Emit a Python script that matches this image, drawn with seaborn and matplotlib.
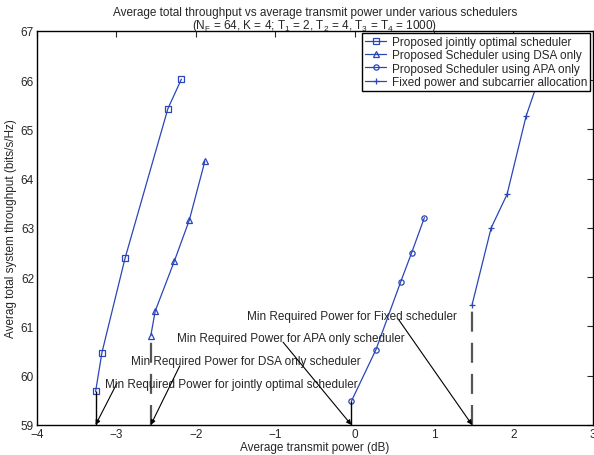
import numpy as np
import pandas as pd
import matplotlib
matplotlib.use("Agg")
import matplotlib.pyplot as plt
import seaborn as sns

# series labels
SERIES = [
    "Proposed jointly optimal scheduler",
    "Proposed Scheduler using DSA only",
    "Proposed Scheduler using APA only",
    "Fixed power and subcarrier allocation",
]
MARKERS = ["s", "^", "o", "+"]

# values (power in dB, throughput in bits/s/Hz)
joint_power = [-3.26, -3.18, -2.89, -2.35, -2.18]
joint_thr = [59.68, 60.47, 62.38, 65.42, 66.02]
dsa_power = [-2.565, -2.51, -2.27, -2.08, -1.885]
dsa_thr = [60.81, 61.31, 62.32, 63.16, 64.35]
apa_power = [-0.04, 0.27, 0.58, 0.72, 0.88]
apa_thr = [59.48, 60.53, 61.90, 62.50, 63.21]
fixed_power = [1.48, 1.72, 1.92, 2.16, 2.40]
fixed_thr = [61.44, 63.00, 63.68, 65.27, 66.40]

# min required power annotations
ANN_TEXT = [
    "Min Required Power for jointly optimal scheduler",
    "Min Required Power for DSA only scheduler",
    "Min Required Power for APA only scheduler",
    "Min Required Power for Fixed scheduler",
]
ANN_TEXT_X = [-3.14, -2.81, -2.23, -1.36]
ANN_TEXT_Y = [59.83, 60.29, 60.76, 61.22]
ANN_TAIL_X = [-2.99, -2.20, -0.90, 0.55]
ANN_TAIL_Y = [59.85, 60.20, 60.68, 61.15]

sns.set_style("white")
plt.rcParams["font.family"] = ["Liberation Sans", "DejaVu Sans"]
plt.rcParams["mathtext.fontset"] = "custom"
plt.rcParams["mathtext.rm"] = "Liberation Sans"
plt.rcParams["mathtext.it"] = "Liberation Sans"

BLUE = "#2a46b8"

df = pd.concat(
    [
        pd.DataFrame({"power": p, "thr": t, "series": s})
        for p, t, s in zip(
            [joint_power, dsa_power, apa_power, fixed_power],
            [joint_thr, dsa_thr, apa_thr, fixed_thr],
            SERIES,
        )
    ]
)

fig = plt.figure(figsize=(5.94, 4.56), dpi=100)
ax = fig.add_axes([0.062, 0.066, 0.936, 0.864])

for s, m in zip(SERIES, MARKERS):
    sub = df[df["series"] == s]
    sns.lineplot(
        data=sub, x="power", y="thr", ax=ax, sort=False, color=BLUE,
        marker=m, markersize=3.8 if m != "+" else 4.5,
        markerfacecolor="none", markeredgecolor=BLUE, markeredgewidth=0.9,
        linewidth=0.9, label=s,
    )

# vertical drop lines at minimum required power
ax.vlines(joint_power[0], 59, joint_thr[0], color="black", lw=1.0)
ax.vlines(apa_power[0], 59, apa_thr[0], color="black", lw=1.0)
ax.vlines(dsa_power[0], 59, dsa_thr[0], color="#555555", lw=1.6, linestyles=(0, (9, 5)))
ax.vlines(fixed_power[0], 59, fixed_thr[0], color="#555555", lw=1.6, linestyles=(0, (9, 5)))

heads = [joint_power[0], dsa_power[0], apa_power[0], fixed_power[0]]
for txt, tx, ty, tlx, tly, hx in zip(ANN_TEXT, ANN_TEXT_X, ANN_TEXT_Y, ANN_TAIL_X, ANN_TAIL_Y, heads):
    ax.annotate("", xy=(hx, 59.0), xytext=(tlx, tly),
                arrowprops=dict(arrowstyle="-|>", color="black", lw=0.8,
                                mutation_scale=7, shrinkA=0, shrinkB=0))
    ax.text(tx, ty, txt, fontsize=8.5, va="center", ha="left")

ax.set_xlim(-4, 3)
ax.set_ylim(59, 67)
ax.set_xticks(np.arange(-4, 4, 1))
ax.set_yticks(np.arange(59, 68, 1))
ax.tick_params(direction="in", length=4, top=True, right=True, labelsize=8.5, width=0.8, pad=2)
for sp in ax.spines.values():
    sp.set_linewidth(1.0)
    sp.set_color("black")

ax.set_xlabel("Average transmit power (dB)", fontsize=8.5, labelpad=1)
ax.set_ylabel("Averag total system throughput (bits/s/Hz)", fontsize=8.5, labelpad=3)
ax.set_title(
    "Average total throughput vs average transmit power under various schedulers\n"
    "(N$_F$ = 64, K = 4; T$_1$ = 2, T$_2$ = 4, T$_3$ = T$_4$ = 1000)",
    fontsize=8.5, linespacing=0.95, pad=2,
)

leg = ax.legend(loc="upper right", fontsize=8.5, frameon=True, fancybox=False,
                edgecolor="black", framealpha=1, borderpad=0.25, labelspacing=0.1,
                handlelength=1.8, handletextpad=0.5, borderaxespad=0.2)
leg.get_frame().set_linewidth(1.0)

fig.savefig("out.png", dpi=100)
